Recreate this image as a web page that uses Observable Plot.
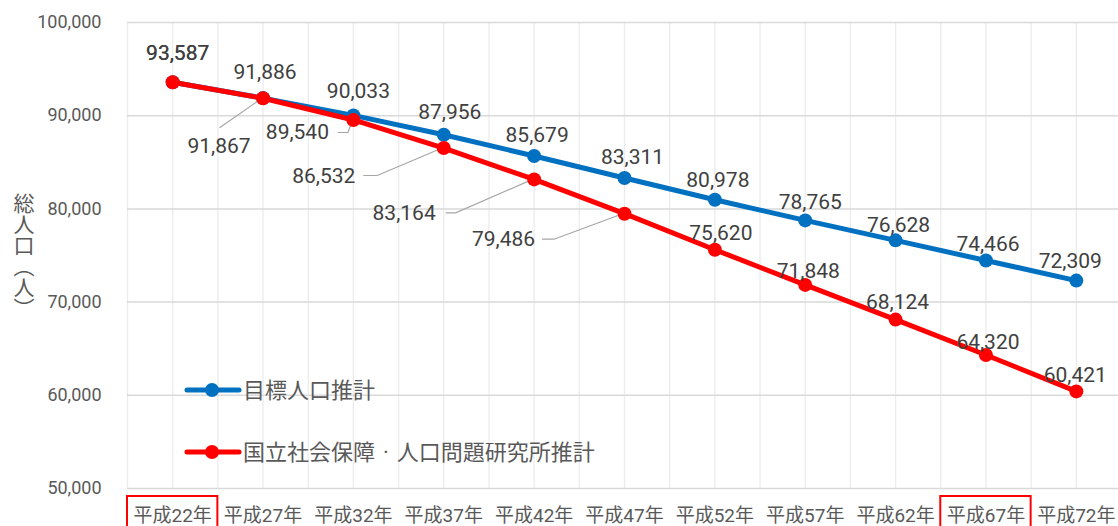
<!DOCTYPE html>
<html><head><meta charset="utf-8">
<script src="https://cdn.jsdelivr.net/npm/d3@7"></script>
<script src="https://cdn.jsdelivr.net/npm/@observablehq/plot@0.6"></script>
<style>
body{margin:0;background:#fff;}
#chart svg{display:block;overflow:visible;}
</style>
</head><body><div id="chart"></div>
<script>
// ---- data ----
const categories = ["平成22年","平成27年","平成32年","平成37年","平成42年","平成47年","平成52年","平成57年","平成62年","平成67年","平成72年"];
const targetSeries = [93587,91886,90033,87956,85679,83311,80978,78765,76628,74466,72309];
const ipssSeries = [93587,91867,89540,86532,83164,79486,75620,71848,68124,64320,60421];
const seriesNames = ["目標人口推計","国立社会保障·人口問題研究所推計"];
const seriesColors = ["#0070C0","#FF0000"];
const yTicks = [50000,60000,70000,80000,90000,100000];
const highlighted = ["平成22年","平成67年"];
const yLabel = "総人口（人）";

// ---- label layout (pixel offsets from each point) ----
const blueLabelOffsets = [[5,-29],[2,-26],[5,-24],[6,-22],[3,-21],[8,-21],[3,-20],[5,-18],[3,-15],[2,-16],[-6,-19]];
const redAboveOffsets = {0:[5,-29],6:[6,-16],7:[3,-14],8:[2,-17],9:[2,-13],10:[-1,-16]};
const redCallouts = {
  1:{label:[-44,48], leader:[[-43,30],[0,0]]},
  2:{label:[-56,12], leader:[[-15,13],[-5,13],[0,0]]},
  3:{label:[-120,28], leader:[[-80,28],[-66,28],[0,0]]},
  4:{label:[-130,34], leader:[[-88,34],[-78,34],[0,0]]},
  5:{label:[-121,26], leader:[[-82,26],[-70,26],[0,0]]}
};

const fmt = d3.format(",");
const blueData = targetSeries.map((v,i)=>({i,v}));
const redData = ipssSeries.map((v,i)=>({i,v}));
const font = "Roboto, 'Noto Sans CJK JP', sans-serif";

const labelMarks = [];
blueData.forEach((d,i)=>{
  const [dx,dy] = blueLabelOffsets[i];
  labelMarks.push(Plot.text([d],{x:"i",y:"v",text:d=>fmt(d.v),dx,dy,fontSize:21,fill:"#404040"}));
});
redData.forEach((d,i)=>{
  const o = redAboveOffsets[i] || redCallouts[i].label;
  labelMarks.push(Plot.text([d],{x:"i",y:"v",text:d=>fmt(d.v),dx:o[0],dy:o[1],fontSize:21,fill:"#404040"}));
});

const chart = Plot.plot({
  width:1118, height:526,
  marginTop:22, marginBottom:38, marginLeft:127, marginRight:0,
  style:{fontFamily:font, color:"#595959", background:"#fff"},
  x:{type:"linear", domain:[-0.5,10.5], range:[127,1121]},
  y:{domain:[50000,100000]},
  marks:[
    Plot.gridX({ticks:d3.range(-0.5,10.51,0.5), stroke:"#ececec", strokeOpacity:1, strokeWidth:1.3}),
    Plot.gridY({ticks:yTicks, stroke:"#d9d9d9", strokeOpacity:1, strokeWidth:1.5}),
    Plot.axisY({ticks:yTicks, tickFormat:fmt, tickSize:0, tickPadding:26, fontSize:18, label:null}),
    Plot.axisX({ticks:d3.range(categories.length), tickFormat:i=>categories[i], tickSize:0, tickPadding:20, fontSize:19, label:null}),
    Plot.line(blueData,{x:"i",y:"v",stroke:seriesColors[0],strokeWidth:5}),
    Plot.dot(blueData,{x:"i",y:"v",r:7,fill:seriesColors[0]}),
    Plot.line(redData,{x:"i",y:"v",stroke:seriesColors[1],strokeWidth:5}),
    Plot.dot(redData,{x:"i",y:"v",r:7,fill:seriesColors[1]}),
    ...labelMarks
  ]
});
document.getElementById("chart").appendChild(chart);

// ---- decorations using the library's scales ----
const xs = chart.scale("x"), ys = chart.scale("y");
const svg = d3.select(chart);
// leader lines (insert behind series)
const firstLine = svg.select("g[aria-label='line']").node();
const leaderG = svg.insert("g", () => firstLine);
Object.entries(redCallouts).forEach(([i,c])=>{
  const px = xs.apply(+i), py = ys.apply(ipssSeries[+i]);
  leaderG.append("path")
    .attr("d", d3.line()(c.leader.map(([dx,dy])=>[px+dx,py+dy])))
    .attr("fill","none").attr("stroke","#a6a6a6").attr("stroke-width",1.2);
});
// highlight boxes around category labels
highlighted.forEach(cat=>{
  const i = categories.indexOf(cat);
  const x1 = xs.apply(i-0.5), x2 = xs.apply(i+0.5);
  svg.append("rect").attr("x",x1).attr("y",496).attr("width",x2-x1).attr("height",40)
    .attr("fill","none").attr("stroke","#FF0000").attr("stroke-width",2);
});
// legend
const legendY = [390, 452];
seriesNames.forEach((name,k)=>{
  const g = svg.append("g");
  g.append("line").attr("x1",187).attr("x2",239).attr("y1",legendY[k]).attr("y2",legendY[k])
    .attr("stroke",seriesColors[k]).attr("stroke-width",5).attr("stroke-linecap","round");
  g.append("circle").attr("cx",212).attr("cy",legendY[k]).attr("r",7).attr("fill",seriesColors[k]);
  const t = g.append("text").attr("x",243).attr("y",legendY[k]).attr("dy","0.36em")
    .attr("text-anchor","start")
    .attr("font-size",22).attr("fill","#595959").attr("font-family",font);
  name.split("·").forEach((part,j)=>{
    if (j>0) t.append("tspan").attr("dx",8).text("·");
    t.append("tspan").attr("dx", j>0 ? 8 : 0).text(part);
  });
});
// y-axis title (vertical)
svg.append("text").attr("x",24).attr("y",193)
  .attr("text-anchor","start")
  .attr("font-size",21).attr("fill","#595959").attr("font-family","'Noto Sans CJK JP', sans-serif")
  .style("writing-mode","vertical-rl")
  .text(yLabel);
</script>
</body></html>
